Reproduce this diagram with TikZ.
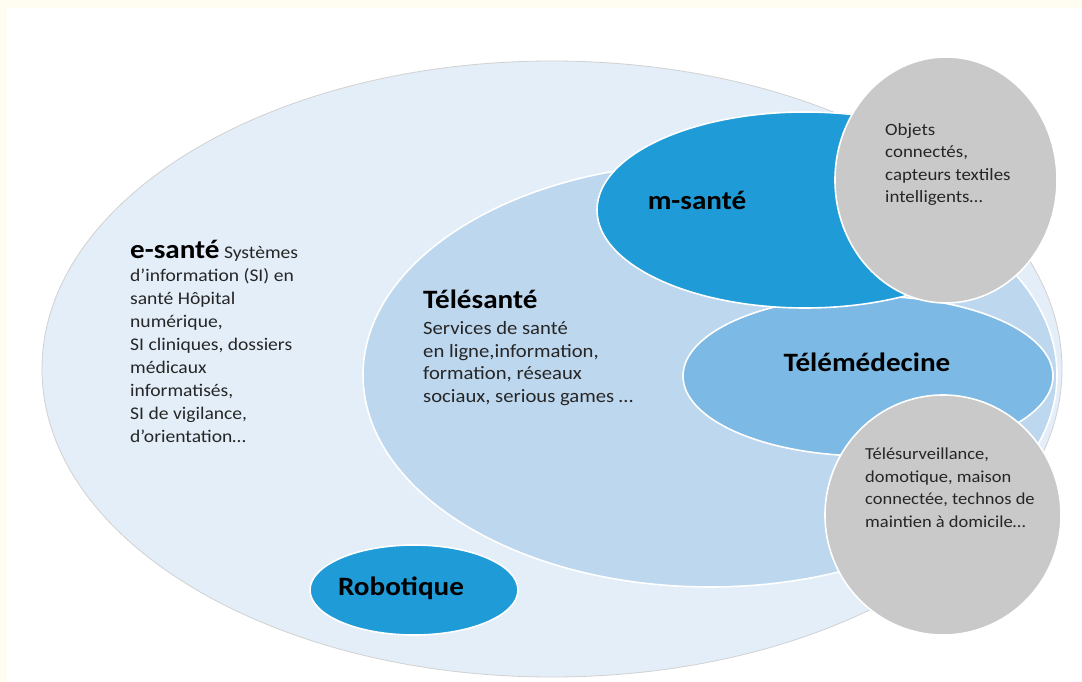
\documentclass[tikz,border=0pt]{standalone}
\usepackage{fontspec}
\setmainfont{Carlito}
\newfontfamily\widefont[FakeStretch=1.1]{Carlito}
\usepackage{tikz}
\usetikzlibrary{shapes.geometric, positioning}
\pgfdeclarelayer{zonelayer}
\pgfdeclarelayer{labellayer}
\pgfsetlayers{zonelayer,main,labellayer}

\definecolor{cream}{HTML}{FFFDF2}
\definecolor{esante}{HTML}{E3EEF9}
\definecolor{telesante}{HTML}{BDD7EE}
\definecolor{msante}{HTML}{1F9CD7}
\definecolor{telemed}{HTML}{7CB9E4}
\definecolor{objets}{HTML}{C9C9C9}
\definecolor{bodytext}{HTML}{262626}

\tikzset{
	zone/.style={ellipse, inner sep=0pt, draw=white, line width=1.6pt},
	bubble/.style={ellipse, inner sep=0pt, fill=objets, draw=white, line width=1.6pt},
	title/.style={font={\widefont\fontsize{26.5}{30}\selectfont\bfseries}, text=black, inner sep=0pt},
	body/.style={text=bodytext, align=left, anchor=base west, inner sep=0pt},
}

\begin{document}
\begin{tikzpicture}[x=1pt, y=-1pt]
	\useasboundingbox (0, 0) rectangle (1082, 682);
	\begin{pgfonlayer}{zonelayer}
		\fill [cream] (0, 0) rectangle (1082, 682);
		\fill [white] (7, 8) rectangle (1082, 682);
		\node [zone, fill=esante, draw=black!18, line width=0.8pt, minimum width=1020, minimum height=616] (0) at (552, 369) {};
		\node [zone, fill=telesante, minimum width=694, minimum height=424] (1) at (710, 375) {};
		\node [zone, fill=msante, minimum width=208, minimum height=90] (2) at (414, 590) {};
		\node [zone, fill=telemed, minimum width=370, minimum height=160] (3) at (868, 376) {};
		\node [zone, fill=msante, minimum width=416, minimum height=196] (4) at (805, 210) {};
		\node [bubble, minimum width=222, minimum height=246] (5) at (946, 180) {};
		\node [bubble, minimum width=236, minimum height=240] (6) at (943, 515) {};
	\end{pgfonlayer}
	\begin{pgfonlayer}{labellayer}
		% base anchor of a multi-line node sits on its last line
		\node [body, font={\widefont\fontsize{17.8}{23}\selectfont}] (7) at (130, 442) {{\fontsize{26.5}{30}\selectfont\bfseries\color{black}e-santé} Systèmes\\d’information (SI) en\\santé Hôpital\\numérique,\\SI cliniques, dossiers\\médicaux\\informatisés,\\SI de vigilance,\\d’orientation…};
		\node [title, anchor=base west] (8) at (423, 308) {Télésanté};
		\node [body, font={\widefont\fontsize{18.8}{22.5}\selectfont}] (9) at (423, 402) {Services de santé\\en ligne,information,\\formation, réseaux\\sociaux, serious games …};
		\node [title] (10) at (697, 200) {m-santé};
		\node [title] (11) at (867, 362) {Télémédecine};
		\node [title] (12) at (401, 588) {Robotique};
		\node [body, font={\widefont\fontsize{17.2}{22.5}\selectfont}] (13) at (885, 203) {Objets\\connectés,\\capteurs textiles\\intelligents…};
		\node [body, font={\widefont\fontsize{16.8}{22.5}\selectfont}] (14) at (865, 527) {Télésurveillance,\\domotique, maison\\connectée, technos de\\maintien à domicile…};
	\end{pgfonlayer}
\end{tikzpicture}
\end{document}
